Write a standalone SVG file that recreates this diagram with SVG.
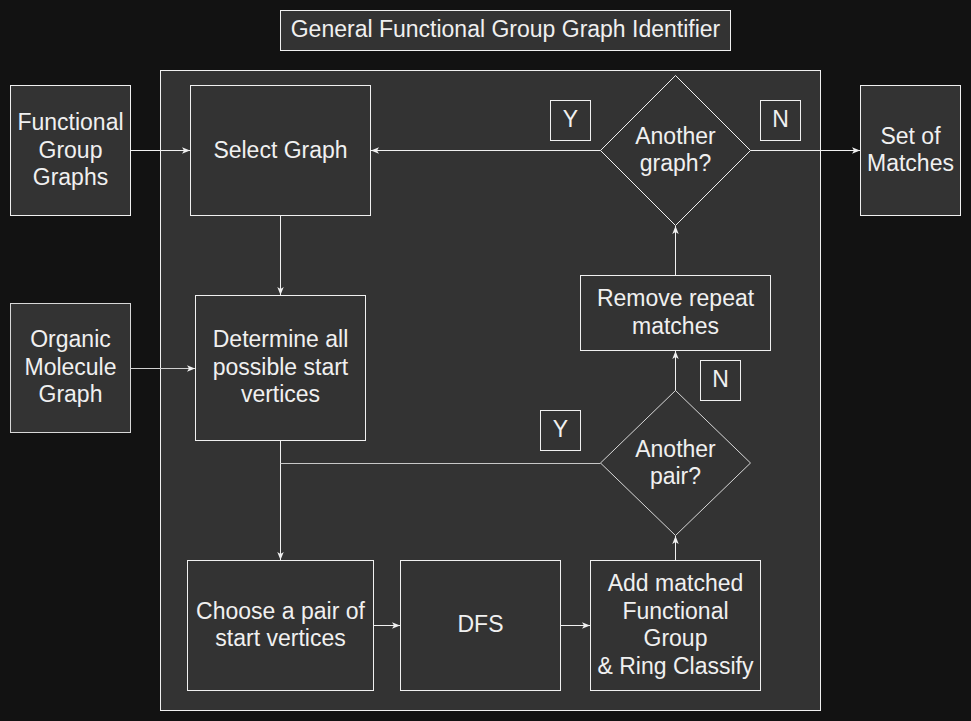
<svg xmlns="http://www.w3.org/2000/svg" width="971" height="721" viewBox="0 0 971 721">
<defs>
<marker id="ah" viewBox="0 0 10 10" refX="10" refY="5" markerWidth="8" markerHeight="8" markerUnits="userSpaceOnUse" orient="auto">
<path d="M0,1 L10,5 L0,9 L2.5,5 Z" fill="#f0f0f0"/>
</marker>
</defs>
<style>
.bg{fill:#121212}
.box{fill:#333333;stroke:#f0f0f0;stroke-width:1}
.t{font-family:"Liberation Sans",Arial,sans-serif;font-size:23px;fill:#f0f0f0;text-anchor:middle}
.c{fill:none;stroke:#f0f0f0;stroke-width:1}
.a{marker-end:url(#ah)}
</style>
<rect class="bg" x="0" y="0" width="971" height="721"/>
<g id="title">
<rect class="box" x="280.5" y="10.5" width="450" height="40"/>
<text class="t" x="505.5" y="37">General Functional Group Graph Identifier</text>
</g>
<g id="container">
<rect class="box" x="160.5" y="70.5" width="660" height="640"/>
</g>
<g id="functional-group-graphs">
<rect class="box" x="10.5" y="85.5" width="120" height="130"/>
<text class="t" x="70.5" y="130">Functional</text>
<text class="t" x="70.5" y="158">Group</text>
<text class="t" x="70.5" y="185">Graphs</text>
</g>
<g id="select-graph">
<rect class="box" x="190.5" y="85.5" width="180" height="130"/>
<text class="t" x="280.5" y="158">Select Graph</text>
</g>
<g id="another-graph">
<polygon class="box" points="675.5,75.5 750.5,150.5 675.5,225.5 600.5,150.5"/>
<text class="t" x="675.5" y="144">Another</text>
<text class="t" x="675.5" y="171">graph?</text>
</g>
<g id="label-y1">
<rect class="box" x="550.5" y="100.5" width="40" height="40"/>
<text class="t" x="570.5" y="127">Y</text>
</g>
<g id="label-n1">
<rect class="box" x="760.5" y="100.5" width="40" height="40"/>
<text class="t" x="780.5" y="127">N</text>
</g>
<g id="set-of-matches">
<rect class="box" x="860.5" y="85.5" width="100" height="130"/>
<text class="t" x="910.5" y="143.5">Set of</text>
<text class="t" x="910.5" y="171">Matches</text>
</g>
<g id="organic-molecule-graph">
<rect class="box" x="10.5" y="303.5" width="120" height="129" style="stroke:#d8d8d8"/>
<text class="t" x="70.5" y="347">Organic</text>
<text class="t" x="70.5" y="375">Molecule</text>
<text class="t" x="70.5" y="402">Graph</text>
</g>
<g id="determine-start">
<rect class="box" x="195.5" y="295.5" width="170" height="145"/>
<text class="t" x="280.5" y="347">Determine all</text>
<text class="t" x="280.5" y="375">possible start</text>
<text class="t" x="280.5" y="402">vertices</text>
</g>
<g id="remove-repeat">
<rect class="box" x="580.5" y="275.5" width="190" height="75"/>
<text class="t" x="675.5" y="306">Remove repeat</text>
<text class="t" x="675.5" y="334">matches</text>
</g>
<g id="label-n2">
<rect class="box" x="700.5" y="360.5" width="40" height="40"/>
<text class="t" x="720.5" y="387">N</text>
</g>
<g id="another-pair">
<polygon class="box" points="675.5,390.5 750.5,463 675.5,535.5 600.5,463" style="stroke:#d8d8d8"/>
<text class="t" x="675.5" y="457">Another</text>
<text class="t" x="675.5" y="484">pair?</text>
</g>
<g id="label-y2">
<rect class="box" x="540.5" y="410.5" width="40" height="40"/>
<text class="t" x="560.5" y="437">Y</text>
</g>
<g id="choose-pair">
<rect class="box" x="187.5" y="560.5" width="186" height="130"/>
<text class="t" x="280.5" y="619">Choose a pair of</text>
<text class="t" x="280.5" y="646">start vertices</text>
</g>
<g id="dfs">
<rect class="box" x="400.5" y="560.5" width="160" height="130"/>
<text class="t" x="480.5" y="632">DFS</text>
</g>
<g id="add-matched">
<rect class="box" x="590.5" y="560.5" width="170" height="130"/>
<text class="t" x="675.5" y="591">Add matched</text>
<text class="t" x="675.5" y="618.5">Functional</text>
<text class="t" x="675.5" y="646">Group</text>
<text class="t" x="675.5" y="673.5">&amp; Ring Classify</text>
</g>
<g id="connectors">
<path class="c a" d="M130.5,150.5 L190,150.5"/>
<path class="c a" d="M600.5,150.5 L371,150.5"/>
<path class="c a" d="M750.5,150.5 L860,150.5"/>
<path class="c a" d="M280.5,215.5 L280.5,295"/>
<path class="c a" d="M130.5,368.5 L195,368.5" style="stroke:#d0d0d0"/>
<path class="c a" d="M675.5,275.5 L675.5,226"/>
<path class="c a" d="M675.5,390.5 L675.5,351"/>
<path class="c a" d="M280.5,440.5 L280.5,560"/>
<path class="c" d="M600.5,463.5 L280.5,463.5" style="stroke:#c8c8c8"/>
<path class="c a" d="M373.5,625.5 L400,625.5"/>
<path class="c a" d="M560.5,625.5 L590,625.5"/>
<path class="c a" d="M675.5,560.5 L675.5,536"/>
</g>
</svg>
